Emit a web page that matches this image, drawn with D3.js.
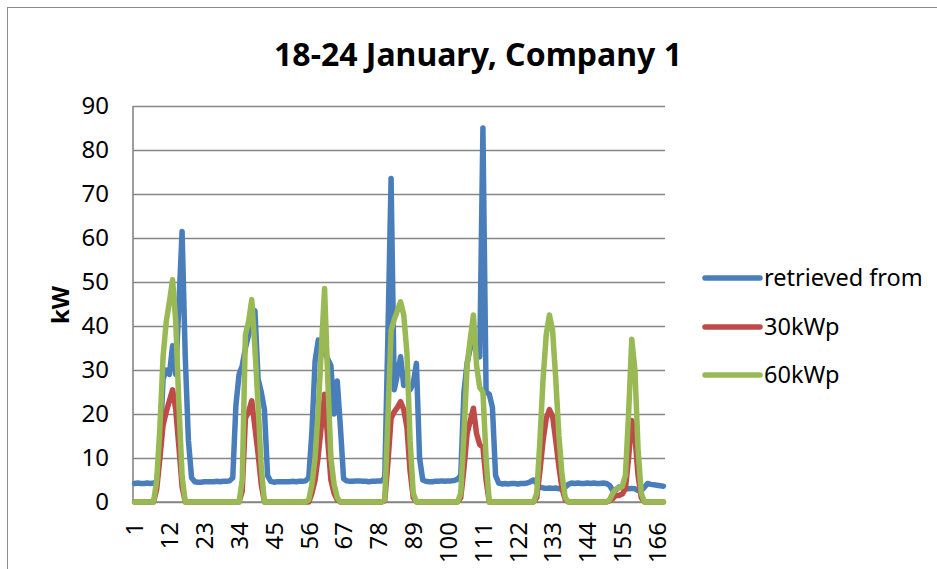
<!DOCTYPE html>
<html>
<head>
<meta charset="utf-8">
<script src="https://cdn.jsdelivr.net/npm/d3@7"></script>
<style>
  html, body { margin: 0; padding: 0; background: #fff; }
  svg { display: block; }
  text { font-family: "Noto Sans", "Open Sans", sans-serif; fill: #000; }
</style>
</head>
<body>
<svg id="chart" width="937" height="569"></svg>
<script>
// Hour of the week (1..168)
const hours = d3.range(1, 169);
const xTickLabels = [1, 12, 23, 34, 45, 56, 67, 78, 89, 100, 111, 122, 133, 144, 155, 166];
const yTickLabels = [0, 10, 20, 30, 40, 50, 60, 70, 80, 90];

const seriesNames = ["retrieved from", "30kWp", "60kWp"];
const seriesColors = ["#4a7ebb", "#be4b48", "#98b954"];

// Load retrieved from the grid, kW
const retrieved = [
  4.2,4.3,4.2,4.2,4.3,4.2,4.3,4.6,12,28,30,29,35.5,29,45,61.5,33,14,5.5,4.6,4.5,4.5,4.6,4.6,
  4.6,4.6,4.7,4.6,4.7,4.7,4.8,5.5,22,29,31,35,38,41,43.5,28,25,21,6,4.7,4.5,4.6,4.6,4.6,
  4.6,4.6,4.7,4.6,4.7,4.7,4.8,5.5,16,32,36.8,35.5,34,32.5,31,20,27.5,17,5.3,4.8,4.7,4.7,4.8,4.8,
  4.7,4.7,4.6,4.7,4.7,4.8,4.8,5.5,38,73.5,25.5,29,33,26.5,27.5,25.5,27,31.5,10,5,4.7,4.6,4.6,4.7,
  4.7,4.8,4.7,4.8,4.8,4.9,5.2,6,25,31.5,35,35.5,34.5,33,85,25,24.5,21.5,6,4.3,4.1,4.2,4.1,4.2,
  4.2,4.1,4.2,4.2,4.3,4.6,5,4.2,3.4,3.2,3.1,3.2,3.1,3.2,3.0,3.2,3.4,4.0,4.3,4.2,4.3,4.2,4.2,4.3,
  4.2,4.3,4.2,4.2,4.3,4.2,3.8,2.6,2.7,3.4,3.3,3.0,3.0,3.1,3.0,2.6,2.6,3.4,4.2,4.0,3.9,3.8,3.7,3.6
];

// Output of a 30 kWp PV system, kW
const pv30 = [
  0,0,0,0,0,0,0,3,10,17.5,20.5,23,25.5,21,12.5,3.5,0,0,0,0,0,0,0,0,
  0,0,0,0,0,0,0,0,0,0,2.5,19,20.5,23,17,11,4,0,0,0,0,0,0,0,
  0,0,0,0,0,0,0,0,2,5,10.5,17.5,24.5,14,5,2,0.5,0,0,0,0,0,0,0,
  0,0,0,0,0,0,0,0.3,9,19,20.5,21.5,22.8,21,17,7,1,0,0,0,0,0,0,0,
  0,0,0,0,0,0,0,1,7.5,15.5,18.5,21.3,15.5,13,12.5,5,0,0,0,0,0,0,0,0,
  0,0,0,0,0,0,0,1,7,14,19,21,19.5,14,8,3,0.5,0,0,0,0,0,0,0,
  0,0,0,0,0,0,0.3,0.8,1.5,1.5,1.8,3,10,18.5,15,6,1,0,0,0,0,0,0,0
];

// Output of a 60 kWp PV system, kW
const pv60 = [
  0,0,0,0,0,0,0,5,17,33,41,45.5,50.5,41,22,6,0,0,0,0,0,0,0,0,
  0,0,0,0,0,0,0,0,0,0,5,38,41,46,35,22,8,0,0,0,0,0,0,0,
  0,0,0,0,0,0,0,0.5,4,10,21,35,48.5,28,10,4,1,0,0,0,0,0,0,0,
  0,0,0,0,0,0,0,0.5,19,39,41.5,43.5,45.5,42.5,34,14,2,0,0,0,0,0,0,0,
  0,0,0,0,0,0,0,2,15,31,37,42.5,31,26,25,10,0,0,0,0,0,0,0,0,
  0,0,0,0,0,0,0,2,14,28,38,42.5,39,28,15,6,1,0,0,0,0,0,0,0,
  0,0,0,0,0,0,0.5,2,3,3.2,3.5,6,20,37,30,12,2,0,0,0,0,0,0,0
];

const series = [retrieved, pv30, pv60];

const svg = d3.select("#chart");
const W = 937, H = 569;
const plot = { left: 133, right: 665, top: 106, bottom: 502 };
const gridColor = "#868686";

svg.append("rect").attr("width", W).attr("height", H).attr("fill", "#fff");

// Chart frame
svg.append("rect")
  .attr("x", 7.5).attr("y", 7.5)
  .attr("width", W + 20).attr("height", H + 20)
  .attr("fill", "none").attr("stroke", "#8c8c8c").attr("stroke-width", 1);

const x = d3.scalePoint().domain(hours).range([plot.left, plot.right]).padding(0.5);
const y = d3.scaleLinear().domain([0, 90]).range([plot.bottom, plot.top]);

// Title
svg.append("text")
  .attr("x", 478).attr("y", 66)
  .attr("text-anchor", "middle")
  .style("font-weight", "bold").style("font-size", "32px")
  .text("18-24 January, Company 1");

// Y axis with gridlines
const yAxis = d3.axisLeft(y).tickValues(yTickLabels)
  .tickSize(-(plot.right - plot.left)).tickPadding(24);
const gy = svg.append("g").attr("transform", `translate(${plot.left},0)`).call(yAxis);
gy.select(".domain").remove();
gy.selectAll(".tick line").attr("stroke", gridColor).attr("stroke-width", 1.6);
gy.selectAll(".tick text").style("font-size", "24px").style("font-family", '"Noto Sans", sans-serif').attr("fill", "#000");

// Axis lines
svg.append("line").attr("x1", plot.left).attr("x2", plot.left)
  .attr("y1", plot.top).attr("y2", plot.bottom)
  .attr("stroke", gridColor).attr("stroke-width", 1.6);
svg.append("line").attr("x1", plot.left).attr("x2", plot.right)
  .attr("y1", plot.bottom).attr("y2", plot.bottom)
  .attr("stroke", gridColor).attr("stroke-width", 1.6);

// X axis labels, rotated
const xAxis = d3.axisBottom(x).tickValues(xTickLabels).tickSize(0);
const gx = svg.append("g").attr("transform", `translate(0,${plot.bottom})`).call(xAxis);
gx.select(".domain").remove();
gx.selectAll(".tick text")
  .attr("transform", "rotate(-90)")
  .attr("x", -20).attr("y", 0).attr("dy", "0.35em")
  .attr("text-anchor", "end")
  .style("font-size", "24px").style("font-family", '"Noto Sans", sans-serif')
  .attr("fill", "#000");

// Y axis title
svg.append("text")
  .attr("transform", "translate(61,305) rotate(-90)")
  .attr("text-anchor", "middle").attr("dy", "0.35em")
  .style("font-weight", "bold").style("font-size", "24px")
  .text("kW");

// Series lines
const line = d3.line()
  .x((d, i) => x(hours[i]))
  .y(d => y(d));

svg.append("g").selectAll("path")
  .data(series)
  .join("path")
  .attr("d", d => line(d))
  .attr("fill", "none")
  .attr("stroke", (d, i) => seriesColors[i])
  .attr("stroke-width", 5.5)
  .attr("stroke-linejoin", "round")
  .attr("stroke-linecap", "round");

// Legend
const legendY = [278, 327, 375];
const lg = svg.append("g");
seriesNames.forEach((name, i) => {
  lg.append("line")
    .attr("x1", 705).attr("x2", 760)
    .attr("y1", legendY[i]).attr("y2", legendY[i])
    .attr("stroke", seriesColors[i]).attr("stroke-width", 5.5)
    .attr("stroke-linecap", "round");
  lg.append("text")
    .attr("x", 764).attr("y", legendY[i]).attr("dy", "0.35em")
    .style("font-size", "23.5px")
    .text(name);
});
</script>
</body>
</html>
